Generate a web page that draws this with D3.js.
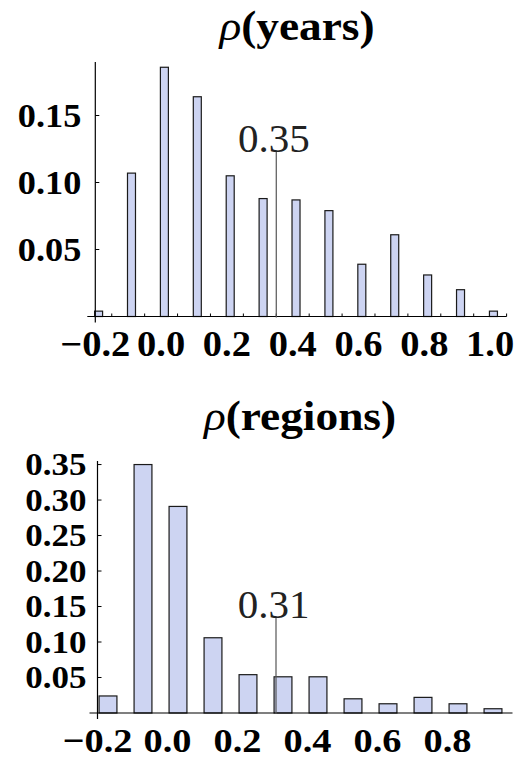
<!DOCTYPE html>
<html>
<head>
<meta charset="utf-8">
<script src="https://cdn.jsdelivr.net/npm/d3@7"></script>
<style>
  html, body { margin: 0; padding: 0; background: #fff; }
  svg { display: block; }
</style>
</head>
<body>
<svg id="chart" width="522" height="760"></svg>
<script>
// ---- data ----
const yearsBins   = [-0.19, -0.09, 0.01, 0.11, 0.21, 0.31, 0.41, 0.51, 0.61, 0.71, 0.81, 0.91, 1.01];
const yearsFreq   = [0.004, 0.107, 0.186, 0.164, 0.105, 0.088, 0.087, 0.079, 0.039, 0.061, 0.031, 0.020, 0.004];
const yearsMedian = 0.35;
const yearsYTicks = [0.05, 0.10, 0.15];
const yearsXTicks = [-0.2, 0.0, 0.2, 0.4, 0.6, 0.8, 1.0];
const yearsMinorTicks = [-0.15, -0.05, 0.05, 0.15, 0.25, 0.35, 0.45, 0.55, 0.65, 0.75, 0.85, 0.95, 1.05];

const regionsBins   = [-0.17, -0.07, 0.03, 0.13, 0.23, 0.33, 0.43, 0.53, 0.63, 0.73, 0.83, 0.93];
const regionsFreq   = [0.024, 0.350, 0.291, 0.106, 0.054, 0.051, 0.051, 0.020, 0.013, 0.022, 0.013, 0.006];
const regionsMedian = 0.31;
const regionsYTicks = [0.05, 0.10, 0.15, 0.20, 0.25, 0.30, 0.35];
const regionsXTicks = [-0.2, 0.0, 0.2, 0.4, 0.6, 0.8];

// ---- drawing ----
const svg = d3.select("#chart");
const BAR_FILL = "#cdd4f2";
const fmtX = v => (v < 0 ? "\u2212" : "") + Math.abs(v).toFixed(1);
const fmtY = v => v.toFixed(2);

function stretchedText(g, x, y, txt, opts) {
  const t = g.append("text")
    .attr("transform", `translate(${x},${y}) scale(${opts.sx || 1},1)`)
    .attr("text-anchor", opts.anchor || "middle")
    .attr("font-family", "'Liberation Serif', 'Times New Roman', serif")
    .attr("font-size", opts.size)
    .attr("font-weight", opts.weight || "bold")
    .attr("fill", opts.fill || "#000");
  return t;
}

function drawPanel(cfg) {
  const g = svg.append("g");
  const x = d3.scaleLinear().domain(cfg.xDomain).range(cfg.xRange);
  const y = d3.scaleLinear().domain(cfg.yDomain).range(cfg.yRange);
  const y0 = y(0);
  const bw = x(cfg.barWidth) - x(0);

  // bars
  g.selectAll("rect.bar").data(cfg.bins.map((b, i) => ({b, f: cfg.freq[i]})))
    .enter().append("rect")
    .attr("x", d => x(d.b) - bw / 2)
    .attr("y", d => y(d.f))
    .attr("width", bw)
    .attr("height", d => y0 - y(d.f))
    .attr("fill", BAR_FILL)
    .attr("stroke", "#1a1a1a")
    .attr("stroke-width", 1.2);

  // axes
  const ax = x(cfg.xDomain[0]);
  g.append("line").attr("x1", ax - cfg.xAxisLeftExt).attr("x2", x(cfg.xDomain[1]) + cfg.xAxisRightExt)
    .attr("y1", y0).attr("y2", y0).attr("stroke", "#000").attr("stroke-width", 1.2);
  g.append("line").attr("x1", ax).attr("x2", ax)
    .attr("y1", y(cfg.yDomain[1])).attr("y2", y0 + 6).attr("stroke", "#000").attr("stroke-width", 1.2);

  // y ticks
  cfg.yTicks.forEach(v => {
    g.append("line").attr("x1", ax).attr("x2", ax + 4).attr("y1", y(v)).attr("y2", y(v))
      .attr("stroke", "#000").attr("stroke-width", 1);
    stretchedText(g, ax - cfg.yLabelGap, y(v) + cfg.yLabelSize * 0.34, fmtY(v),
      {size: cfg.yLabelSize, anchor: "end", sx: cfg.sx}).text(fmtY(v));
  });

  // minor x ticks
  (cfg.minorTicks || []).forEach(v => {
    g.append("line").attr("x1", x(v)).attr("x2", x(v)).attr("y1", y0).attr("y2", y0 - 3)
      .attr("stroke", "#000").attr("stroke-width", 1);
  });

  // x labels
  cfg.xTicks.forEach(v => {
    stretchedText(g, x(v), cfg.xLabelBaseline, fmtX(v), {size: cfg.xLabelSize, sx: cfg.sx}).text(fmtX(v));
  });

  // median line + label
  g.append("line").attr("x1", x(cfg.median)).attr("x2", x(cfg.median))
    .attr("y1", y(cfg.medianTop)).attr("y2", y0 + 1)
    .attr("stroke", "#555").attr("stroke-width", 1.2);
  stretchedText(g, x(cfg.median) - 2.5, y(cfg.medianTop) + 1, cfg.median.toFixed(2),
    {size: 41, weight: "normal", fill: "#222"}).text(cfg.median.toFixed(2));

  // title
  const tt = stretchedText(g, cfg.titleX, cfg.titleY, "", {size: 42, sx: 1.08});
  tt.append("tspan").attr("font-style", "italic").attr("font-weight", "normal").text("\u03c1");
  tt.append("tspan").text(cfg.title);
}

drawPanel({
  bins: yearsBins, freq: yearsFreq, median: yearsMedian, medianTop: 0.1237,
  xDomain: [-0.2, 1.05], xRange: [95.3, 506.6],
  yDomain: [0, 0.19], yRange: [316.5, 61.9],
  barWidth: 0.0243, xAxisLeftExt: 8, xAxisRightExt: 0,
  yTicks: yearsYTicks, xTicks: yearsXTicks, minorTicks: yearsMinorTicks,
  yLabelGap: 14, yLabelSize: 33, xLabelSize: 35, xLabelBaseline: 356, sx: 1.1,
  title: "(years)", titleX: 297, titleY: 40
});

drawPanel({
  bins: regionsBins, freq: regionsFreq, median: regionsMedian, medianTop: 0.1356,
  xDomain: [-0.2, 0.98], xRange: [97.5, 510.5],
  yDomain: [0, 0.355], yRange: [713, 461],
  barWidth: 0.051, xAxisLeftExt: 8, xAxisRightExt: 2,
  yTicks: regionsYTicks, xTicks: regionsXTicks, minorTicks: [],
  yLabelGap: 11, yLabelSize: 31, xLabelSize: 34, xLabelBaseline: 752, sx: 1.13,
  title: "(regions)", titleX: 300, titleY: 430
});
</script>
</body>
</html>
